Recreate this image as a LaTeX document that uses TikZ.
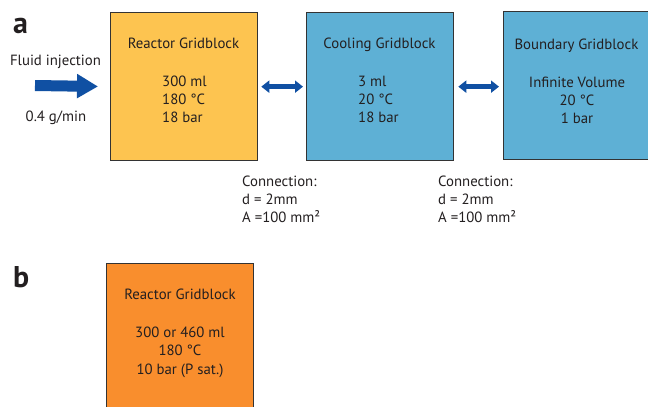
\documentclass[tikz,border=0pt]{standalone}
\usepackage{fontspec}
\setmainfont{PT Sans}
\usetikzlibrary{arrows.meta}
\definecolor{reacY}{RGB}{253,196,80}
\definecolor{coolB}{RGB}{94,176,213}
\definecolor{orgB}{RGB}{249,142,45}
\definecolor{arrB}{RGB}{16,80,163}
\definecolor{edgeG}{RGB}{51,51,51}
\definecolor{txtK}{RGB}{35,31,32}
\begin{document}
\begin{tikzpicture}[x=1pt,y=-1pt,
  gblock/.style={draw=edgeG, line width=1.3pt, minimum width=147pt, minimum height=148pt, anchor=north west, inner sep=0pt},
  txt/.style={font=\fontsize{14.8}{17}\selectfont, inner sep=0pt, text=txtK, anchor=base},
  txtl/.style={txt, anchor=base west},
  panel/.style={font=\fontsize{30}{34}\selectfont\bfseries, inner sep=0pt, anchor=base west, text=txtK},
  bigarrow/.style={draw=arrB, line width=11pt, -{Triangle[width=23pt,length=21pt]}, shorten >=12pt},
  dblarrow/.style={draw=arrB, line width=5pt, {Triangle[width=12pt,length=8pt]}-{Triangle[width=12pt,length=8pt]}}]
\useasboundingbox (0,0) rectangle (648,407);
\clip (0,0) rectangle (648,407);
\fill[white] (0,0) rectangle (648,407);

% panel labels
\node[panel] (la) at (13,33) {a};
\node[panel] (lb) at (13,287) {b};

% gridblocks
\node[gblock, fill=reacY] (reactor) at (110,12) {};
\node[gblock, fill=coolB] (cooling) at (306,12) {};
\node[gblock, fill=coolB, minimum width=148pt] (boundary) at (503,11) {};
\node[gblock, fill=orgB, minimum height=152pt] (reactorb) at (106,263) {};

% reactor texts
\node[txt] (r1) at (183.5,48) {Reactor Gridblock};
\node[txtl] (r2) at (162,86) {300 ml};
\node[txtl] (r3) at (162,104) {180 °C};
\node[txtl] (r4) at (162,122) {18 bar};

% cooling texts
\node[txt] (c1) at (379.5,48) {Cooling Gridblock};
\node[txtl] (c2) at (358,86) {3 ml};
\node[txtl] (c3) at (358,104) {20 °C};
\node[txtl] (c4) at (358,122) {18 bar};

% boundary texts
\node[txt] (b1) at (576.5,49) {Boundary Gridblock};
\node[txt] (b2) at (577,87) {Infinite Volume};
\node[txt] (b3) at (577,105) {20 °C};
\node[txt] (b4) at (577,123) {1 bar};

% reactor b texts
\node[txt] (rb1) at (180,299) {Reactor Gridblock};
\node[txt] (rb2) at (180,337) {300 or 460 ml};
\node[txt] (rb3) at (180,355.5) {180 °C};
\node[txt] (rb4) at (180,374) {10 bar (P sat.)};

% injection
\node[txt] (fi) at (55.5,65) {Fluid injection};
\node[txt] (rate) at (56,121) {0.4 g/min};
\coordinate (inj) at (35,85.5);
\draw[bigarrow] (inj) -- (reactor.west);

% connections
\draw[dblarrow, shorten <=3pt, shorten >=3pt] (reactor.east) -- (cooling.west);
\draw[dblarrow, shorten <=4pt, shorten >=4pt] (cooling.east) -- (boundary.west |- cooling.east);

\node[txtl] (k1) at (242,186) {Connection:};
\node[txtl] (k2) at (242,204) {d = 2mm};
\node[txtl] (k3) at (242,222) {A =100 mm²};
\node[txtl] (m1) at (438,186) {Connection:};
\node[txtl] (m2) at (438,204) {d = 2mm};
\node[txtl] (m3) at (438,222) {A =100 mm²};
\end{tikzpicture}
\end{document}
